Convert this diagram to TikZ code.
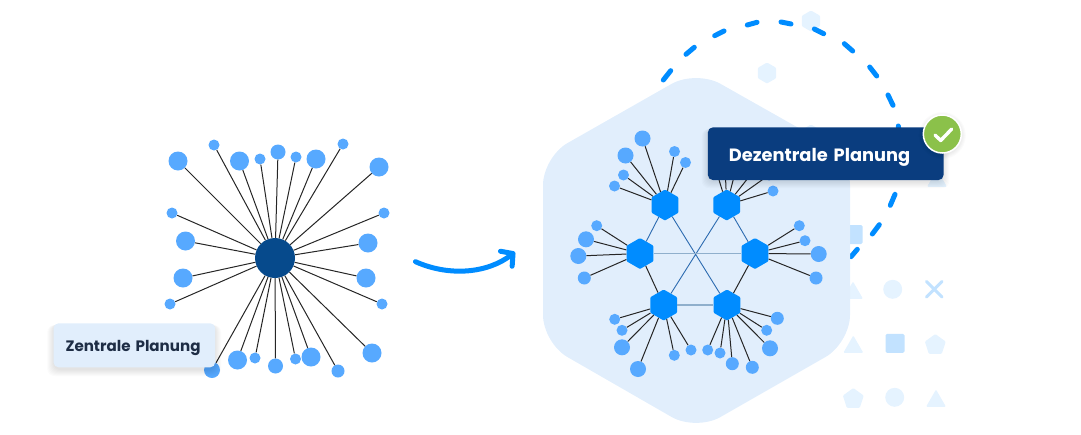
\documentclass[tikz,border=0pt]{standalone}
\usepackage{fontspec}
\setmainfont{Poppins}
\usetikzlibrary{arrows.meta,shapes.geometric}
\definecolor{hubblue}{HTML}{008CFF}
\definecolor{satblue}{HTML}{57A9FF}
\definecolor{darkhub}{HTML}{064A8C}
\definecolor{navy}{HTML}{0A3D7F}
\definecolor{paleblue}{HTML}{E1EEFC}
\definecolor{ghostblue}{HTML}{E5F3FF}
\definecolor{ghostdeep}{HTML}{C2E2FF}
\definecolor{checkgreen}{HTML}{8BC14A}
\definecolor{inktext}{HTML}{1E2D45}
\definecolor{crosslink}{HTML}{2C6BB0}
\definecolor{softlink}{HTML}{8FAFCC}
\tikzset{
  sat/.style={circle,fill=satblue,inner sep=0pt},
  spoke/.style={black!85,line width=1pt},
  hexhub/.style={regular polygon,regular polygon sides=6,shape border rotate=30,fill=hubblue,
    minimum size=31pt,inner sep=0pt,rounded corners=1pt},
  ghost/.style={fill=ghostblue,inner sep=0pt,rounded corners=1pt},
  ghosthex/.style={ghost,regular polygon,regular polygon sides=6,shape border rotate=30,minimum size=21pt},
  ghosttri/.style={ghost,regular polygon,regular polygon sides=3,minimum size=23pt},
  ghostpent/.style={ghost,regular polygon,regular polygon sides=5,minimum size=22pt},
  ghostdot/.style={circle,fill=ghostblue,inner sep=0pt,minimum size=19pt},
  ghostsq/.style={fill=ghostdeep,inner sep=0pt,minimum size=19pt,rounded corners=1.5pt},
  dashpiece/.style={hubblue,line width=5pt,line cap=round},
  flowarrow/.style={hubblue,line width=5pt,line cap=round,-{Straight Barb[length=8.5pt,width=19pt,round]}},
  planbox/.style={anchor=west,rounded corners=5pt,align=left},
  softshade/.style={black,opacity=0.014,rounded corners=7pt},
}
\begin{document}
\begin{tikzpicture}[x=1pt,y=-1pt]
    \useasboundingbox (0,0) rectangle (1081,434);
    % pale shapes behind the plan
    \node[ghosthex] (gh1) at (811,21) {};
    \node[ghosthex] (gh2) at (767,73) {};
    \node[ghosthex] (gh3) at (811,135) {};
    \node[ghosttri] (gt1) at (937,181) {};
    \node[ghostsq] (gs1) at (853,234.5) {};
    \node[ghosttri] (gt2) at (853,293) {};
    \node[ghostdot] (gd1) at (892.7,289.3) {};
    \draw[ghostdeep,line width=3pt,line cap=round] (926.5,281.5) -- (942,297) (942,281.5) -- (926.5,297);
    \node[ghosttri] (gt3) at (853.3,347) {};
    \node[ghostsq] (gs2) at (895,343.3) {};
    \node[ghostpent] (gp1) at (935.3,345) {};
    \node[ghostpent] (gp2) at (853.3,399) {};
    \node[ghostdot] (gd2) at (894.7,397.3) {};
    \node[ghosttri] (gt4) at (936,401) {};
    % dashes of the arc
    \foreach \ax/\ay/\bx/\by in {663.3/80/670.7/70.7,686/54.3/694.3/47.3,714.7/35.7/724/31,
      747.3/25/757/22.3,781/22/791/24,814.3/29/823.7/33.7,844.3/43.7/852.7/51,
      869.7/67/876.7/76,888/95/893/105.3,898.3/126/900/136,895/194.3/890.3/205.3,
      879.3/224.7/872.3/234,857.3/249.3/851/256.7}{
      \draw[dashpiece] (\ax,\ay) -- (\bx,\by);}
    % big hexagon
    \fill[paleblue,rounded corners=28pt] (696,70) -- (850,157) -- (850,343) -- (696,431) -- (543,343) -- (543,157) -- cycle;
    % central plan
    \node[circle,fill=darkhub,minimum size=40pt,inner sep=0pt] (zhub) at (275,258) {};
    \foreach \x/\y/\d [count=\n] in {178/161/19,214/145/11,239.5/161/19,260/159/11,278/152/15,296/157/11,
      316/159/19,343/144/11,379/167/19,172/213/11,384/213/11,185.5/241/19,368/243/19,183/278/19,366/278/19,
      170/304/11,382/304/11,212/370/16,237.5/360/19,255/358/11,275.5/366/15,295.5/359/11,311/357/19,
      372/353/19,338/371/13}{
      \node[sat,minimum size=\d pt] (zs\n) at (\x,\y) {};
      \draw[spoke] (zhub) -- (zs\n);}
    % arrow
    \coordinate (arrowstart) at (415.5,261.7);
    \coordinate (arrowend) at (515,252);
    \draw[flowarrow] (arrowstart) .. controls (450,277) and (488,273) .. (arrowend);
    % decentral plan
    \node[hexhub] (ha) at (665,205) {};
    \node[hexhub] (hb) at (726.7,205) {};
    \node[hexhub] (hc) at (640,253.5) {};
    \node[hexhub] (hd) at (755,253.5) {};
    \node[hexhub] (he) at (663.7,305) {};
    \node[hexhub] (hf) at (727,305) {};
    \draw[crosslink,line width=0.9pt] (ha) -- (hc) (ha) -- (hf) (hb) -- (he) (hb) -- (hd);
    \draw[spoke] (hc) -- (he) (hd) -- (hf);
    \draw[softlink,line width=1.3pt] (hc) -- (hd) (he) -- (hf);
    \foreach \h/\pts in {
      ha/{642.5/138.5/16,625.5/155.5/16,623.5/175/11,614.5/186/11,674.5/151.5/11,685.5/162.5/11},
      hb/{773/191/11,769/175/11},
      hc/{596.7/225.7/11,586/239.3/16,578.3/256/16,584.3/278/13},
      hd/{799.3/225.7/11,805/240.7/11,818.7/254/16,816/278/13},
      he/{614.7/319.3/11,622/330.3/11,622/347.3/16,638/369/16,674.3/355.3/11,691/350/11},
      hf/{777.3/318.3/13,766.7/330.3/11,770/348.3/16,752.3/367.3/13,732.3/363.7/13,720/353/11,707.7/350/11}}{
      \foreach \x/\y/\d [count=\n] in \pts {
        \node[sat,minimum size=\d pt] (\h s\n) at (\x,\y) {};
        \draw[spoke] (\h) -- (\h s\n);}}
    % ends under the dark label
    \coordinate (hbu1) at (716,170);
    \coordinate (hbu2) at (725,165);
    \coordinate (hbu3) at (737,165);
    \coordinate (hbu4) at (752,173);
    \foreach \n in {1,...,4}{\draw[spoke] (hb) -- (hbu\n);}
    % soft shadows
    \foreach \g in {0,...,6}{
      \fill[softshade] (53.3-\g,324+\g*0.2) rectangle (215+\g,370+\g);
      \fill[softshade] (707.7-\g,128+\g*0.2) rectangle (943.3+\g,182+\g);}
    % labels
    \node[planbox,fill=paleblue,text=inktext,font=\bfseries\fontsize{15.1}{17}\selectfont,inner xsep=12pt,
      text width=137.7pt,minimum height=44pt,text height=15pt,text depth=3pt] (zlabel) at (53.3,345.3) {Zentrale Planung};
    \node[planbox,fill=navy,text=white,font=\bfseries\fontsize{17.8}{20}\selectfont,inner xsep=21pt,
      text width=193.6pt,minimum height=52.7pt,text height=19pt,text depth=4pt] (dlabel) at (707.7,153.7) {Dezentrale Planung};
    \foreach \g in {0,...,4}{\fill[softshade] (942.3,135.5) circle (19.5+\g);}
    \node[circle,fill=checkgreen,draw=white,line width=1.5pt,minimum size=38pt,inner sep=0pt] (okmark) at (942.3,134) {};
    \draw[white,line width=3.4pt,line cap=round,line join=round] (935,135) -- (940.7,140.5) -- (951.7,129);
\end{tikzpicture}
\end{document}
